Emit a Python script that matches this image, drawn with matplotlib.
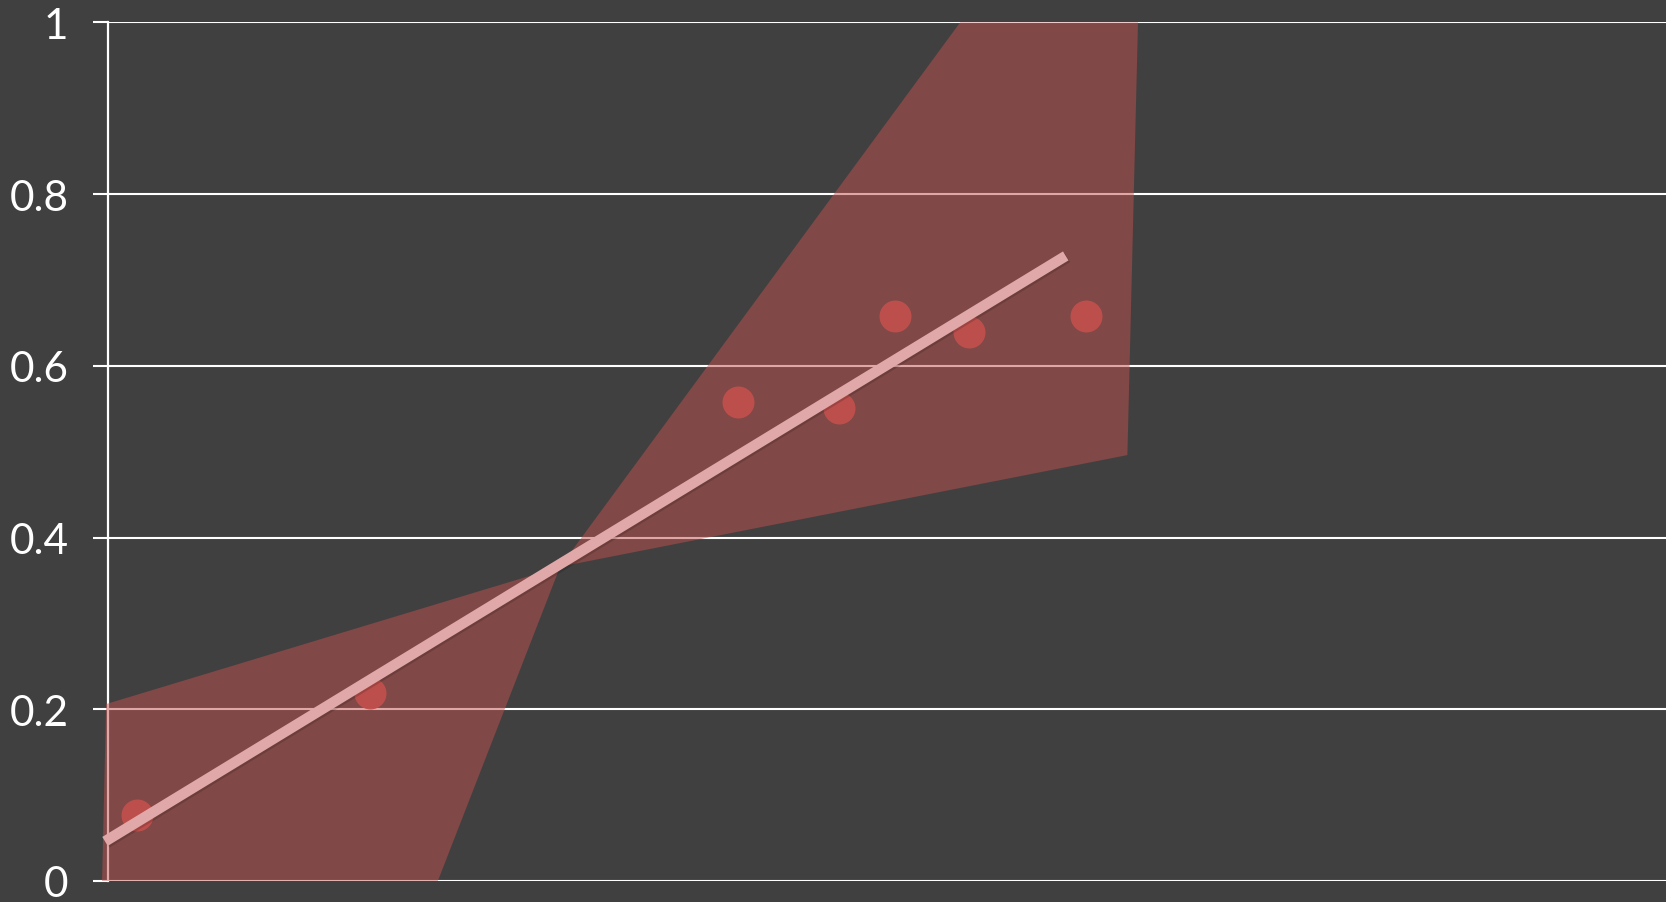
import numpy as np
from matplotlib import pyplot as plt
from matplotlib import patheffects as pe

# data (x in arbitrary units, 0..100 across the axes)
pts_x = [1.81, 16.79, 40.45, 46.93, 50.48, 55.25, 62.76]
pts_y = [0.077, 0.219, 0.558, 0.551, 0.658, 0.639, 0.658]

fit_x = [-0.22, 61.46]
fit_y = [0.046, 0.728]

# confidence band outline (bow-tie)
band_x = [-0.41, -0.15, 29.0, 54.68, 66.1, 65.42, 29.0, 21.15]
band_y = [0.0, 0.206, 0.366, 1.0, 1.0, 0.496, 0.366, 0.0]

yticks = [0, 0.2, 0.4, 0.6, 0.8, 1.0]
ylabels = ["0", "0.2", "0.4", "0.6", "0.8", "1"]

bg = "#404040"
plt.rcParams['font.family'] = ['Lato', 'DejaVu Sans']

fig = plt.figure(figsize=(16.66, 9.03), dpi=100, facecolor=bg)
ax = fig.add_axes([0.0651, 0.02337, 1 - 0.0651, 0.9507], facecolor=bg)

ax.set_xlim(0, 100)
ax.set_ylim(0, 1)
ax.set_axisbelow(True)

ax.grid(axis="y", color="white", linewidth=1.5)
ax.set_yticks(yticks)
ax.set_yticklabels(ylabels)
ax.tick_params(axis="y", colors="white", length=10.8, width=1.5, pad=18,
               labelsize=30.5)
ax.tick_params(axis="x", bottom=False, labelbottom=False)

for s in ["top", "right", "bottom"]:
    ax.spines[s].set_visible(False)
ax.spines["left"].set_color("white")
ax.spines["left"].set_linewidth(1.6)

ax.fill(band_x, band_y, color="#c0504d", alpha=0.5, linewidth=0,
        zorder=3, clip_on=False)

ax.scatter(pts_x, pts_y, s=530, color="#c0504d", alpha=0.95,
           linewidths=0, zorder=4)

ax.plot(fit_x, fit_y, color="#e0a8a8", linewidth=7.6, solid_capstyle="butt",
        zorder=5, clip_on=False,
        path_effects=[pe.SimpleLineShadow(offset=(1.2, -1.2), alpha=0.15),
                      pe.Normal()])

fig.savefig("out.png", dpi=100, facecolor=bg)
